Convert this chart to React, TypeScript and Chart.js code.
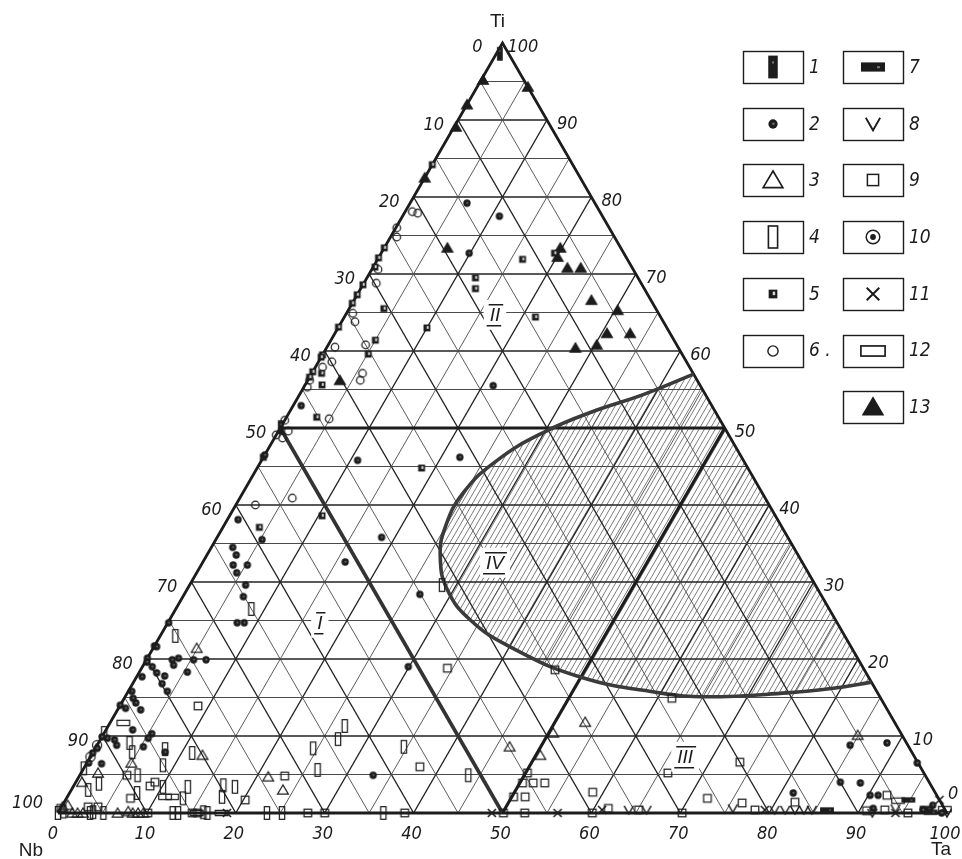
import React, { useEffect, useRef } from "react";
import { Chart, registerables } from "chart.js";

Chart.register(...registerables);

// Compositions are stored as [Ta %, Ti %]; Nb % is the remainder to 100.

// 1 — black vertical bar
const group1 = [[0.4, 98.6], [0, 50.1]];

// 2 — filled circle
const group2 = [
  [6.4, 79.2], [10.9, 77.5], [9.9, 72.7], [0.9, 52.9], [10.8, 45.8], [22.1, 46.2], [21.2, 55.5],
  [0, 46.5], [16.0, 32.6], [26.5, 28.4], [29.9, 19.0], [5.2, 32.2], [4.5, 31.2], [6.3, 29.6],
  [6.8, 28.1], [7.8, 24.7], [8.6, 24.7], [0.1, 24.7], [0, 21.7], [0.3, 21.6], [0, 20.1], [0.2, 19.6],
  [2.9, 19.9], [3.5, 20.1], [3.4, 19.2], [5.3, 19.9], [6.7, 19.9], [1.1, 19.0], [2.0, 18.2],
  [3.1, 17.8], [3.3, 16.8], [4.4, 15.8], [5.4, 18.3], [0.6, 17.7], [0.4, 15.8], [1.0, 14.9],
  [0, 14.0], [0.8, 13.6], [1.6, 14.3], [2.6, 13.4], [3.0, 10.8], [0, 9.9], [0.7, 9.7], [1.6, 9.5],
  [5.4, 10.3], [5.3, 9.7], [5.3, 8.6], [2.2, 8.8], [0.2, 8.4], [0, 7.8], [1.7, 6.4], [0.2, 6.5],
  [8.1, 7.9], [33.0, 4.9], [81.4, 2.6], [84.7, 8.8], [88.7, 9.1], [93.4, 6.5], [86.0, 4.0],
  [88.3, 3.9], [90.2, 2.3], [91.1, 2.3], [91.4, 0.6], [97.1, 0.4], [97.9, 1.0], [99.4, 0],
  [1.2, 38.1], [5.2, 35.5], [2.4, 34.5], [3.3, 33.5], [3.6, 32.2], [18.5, 35.8],
];

// 3 — open triangle
const group3 = [
  [4.9, 21.4], [12.5, 7.5], [1.9, 5.2], [0.7, 4.0], [5.0, 6.5], [21.3, 4.7], [23.8, 3.0],
  [46.5, 8.6], [50.5, 7.5], [50.5, 10.4], [53.4, 11.8], [84.9, 10.1], [0.1, 0.8], [0.6, 1.0],
  [1.6, 0], [2.2, 0], [2.8, 0], [6.7, 0], [7.8, 0.2], [8.4, 0], [9.0, 0], [9.6, 0],
];

// 4 — open vertical rectangle
const group4 = [
  [8.5, 26.5], [1.7, 23.0], [28.4, 29.6], [0, 10.4], [3.5, 9.1], [4.4, 7.9], [7.9, 8.3],
  [8.7, 6.2], [11.2, 7.8], [0, 5.8], [6.5, 4.9], [2.7, 3.8], [1.9, 3.0], [10.1, 3.4], [7.6, 2.6],
  [12.9, 3.4], [16.8, 3.6], [18.2, 3.4], [17.4, 2.1], [13.1, 1.9], [26.4, 5.6], [24.5, 8.4],
  [26.7, 9.6], [26.6, 11.3], [34.6, 8.6], [43.7, 4.9], [3.6, 0], [5.1, 0], [0, 0], [0.5, 0.2],
  [3.9, 0.1], [12.9, 0], [13.5, 0], [16.3, 0.1], [16.8, 0], [23.5, 0], [25.2, 0], [36.6, 0],
];

// 5 — small filled square
const group5 = [
  [16.3, 71.9], [12.2, 69.5], [12.9, 68.1], [10.0, 63.0], [3.9, 65.5], [5.0, 61.4], [1.1, 57.1],
  [1.9, 55.6], [3.4, 51.4], [18.5, 44.8], [21.5, 64.4], [19.5, 72.7], [5.1, 59.6], [0, 84.2],
  [0, 73.4], [0, 72.1], [0.2, 70.9], [0, 68.6], [0, 67.3], [0, 66.2], [0, 63.1], [0, 59.5],
  [0, 59.2], [0, 57.3], [0, 56.6], [0, 46.2], [4.1, 37.1], [10.4, 38.6],
];

// 6 — open circle
const group6 = [
  [0.8, 78.1], [1.5, 77.9], [0.1, 76.0], [0.7, 74.8], [0.7, 70.6], [1.4, 68.8], [0.7, 64.9],
  [1.5, 63.8], [4.2, 60.8], [0.9, 60.5], [1.5, 58.6], [0.8, 57.9], [0.2, 56.2], [0.4, 55.3],
  [5.7, 57.1], [5.9, 56.2], [4.9, 51.2], [0, 51.0], [0, 49.1], [1.1, 49.6], [0.9, 48.7],
  [5.9, 40.9], [2.2, 40.0],
];

// 7 — black horizontal bar
const group7 = [[86.3, 0.4], [94.8, 1.7], [97.4, 0.6], [98.1, 0.1]];

// 8 — V mark
const group8 = [
  [64.0, 0.4], [66.0, 0.4], [75.6, 0.6], [80.4, 0.4], [81.6, 0.4], [82.7, 0.4], [83.7, 0.4],
  [84.6, 0.4], [93.9, 0.6], [91.6, 0], [100, 0],
];

// 9 — open square
const group9 = [
  [34.4, 18.8], [8.8, 13.9], [5.3, 4.9], [8.6, 3.5], [8.9, 4.0], [7.2, 1.9], [20.2, 1.7],
  [23.1, 4.8], [37.7, 6.0], [50.2, 5.2], [50.3, 3.9], [51.5, 3.9], [52.8, 3.9], [50.2, 2.1],
  [51.5, 2.1], [58.8, 2.7], [46.6, 18.6], [61.6, 14.9], [66.0, 5.2], [73.4, 6.6], [72.1, 1.9],
  [76.3, 1.3], [82.2, 1.4], [92.1, 2.3], [3.0, 0.8], [4.1, 0.8], [0, 0.6], [10.1, 0], [28.1, 0],
  [30.0, 0], [39.0, 0], [50.1, 0], [52.5, 0], [60.1, 0], [61.6, 0.6], [65.1, 0.4], [70.2, 0],
  [78.2, 0.4], [90.8, 0.3], [92.8, 0.4], [95.6, 0], [15.1, 0], [15.7, 0],
];

// 10 — ring with centre dot
const group10 = [[0, 8.8], [0, 7.3]];

// 11 — cross
const group11 = [[19.0, 0], [48.8, 0], [56.2, 0], [61.0, 0.4], [79.3, 0.4], [94.2, 0], [98.3, 1.7]];

// 12 — open horizontal rectangle
const group12 = [[1.5, 11.7], [11.0, 2.1], [11.8, 2.1], [93.7, 1.6], [99.5, 0.5], [15.6, 0], [18.4, 0]];

// 13 — filled triangle
const group13 = [
  [7.1, 73.4], [19.8, 73.4], [20.1, 72.2], [21.9, 70.8], [23.4, 70.8], [26.7, 66.6], [30.3, 65.3],
  [28.0, 60.4], [30.2, 60.8], [30.6, 62.3], [33.2, 62.3], [3.6, 56.2], [0.2, 95.2], [5.7, 94.3],
  [0, 92.0], [0.2, 89.1], [0, 82.5],
];

// Boundary of field IV (starts and ends on the Ti–Ta side)
const curveIV = [
  [43, 57], [38.6, 54.3], [34.4, 52.3], [30, 49.5], [26.5, 45.8], [24.8, 41.6], [25, 37.1],
  [26.4, 33.2], [29.3, 29], [33.8, 25.1], [40, 21.6], [49.8, 17.7], [59.9, 15.6], [65.5, 15.1],
  [74.2, 15.6], [79.1, 16.2], [83, 17],
];

const tickValues = [0, 10, 20, 30, 40, 50, 60, 70, 80, 90, 100];
const gridSteps = [5, 10, 15, 20, 25, 30, 35, 40, 45, 50, 55, 60, 65, 70, 75, 80, 85, 90, 95];
const vertexNames = ["Ti", "Nb", "Ta"];
const regionNames = ["I", "II", "III", "IV"];
const regionAt = [[17.1, 24.7], [16.8, 64.7], [66.9, 7.3], [32.9, 32.5]];
const legendLabels = ["1", "2", "3", "4", "5", "6 .", "7", "8", "9", "10", "11", "12", "13"];

const groups = [
  group1, group2, group3, group4, group5, group6, group7,
  group8, group9, group10, group11, group12, group13,
];

const INK = "#1c1c1c";
const NUM_FONT = "italic 18px 'Liberation Sans Narrow', 'DejaVu Sans Condensed', 'Liberation Sans', sans-serif";
const legendScale = [1.9, 1.45, 2.1, 2.0, 1.45, 1.55, 2.0, 1.8, 1.7, 1.7, 1.8, 2.2, 2.1];
const plotScale = 1.15;

function makeMarker(kind: number, s: number): HTMLCanvasElement {
  const size = Math.ceil(16 * s / 2) * 2;
  const cv = document.createElement("canvas");
  cv.width = size;
  cv.height = size;
  const g = cv.getContext("2d")!;
  const c = size / 2;
  g.strokeStyle = INK;
  g.fillStyle = INK;
  g.lineWidth = 1.15 + 0.45 * (s - 1);
  const tri = () => {
    g.beginPath();
    g.moveTo(c, c - 4.3 * s);
    g.lineTo(c - 4.7 * s, c + 3.6 * s);
    g.lineTo(c + 4.7 * s, c + 3.6 * s);
    g.closePath();
  };
  switch (kind) {
    case 1:
      g.fillRect(c - 2.5 * s, c - 6 * s, 5 * s, 12 * s);
      g.fillStyle = "#777";
      g.fillRect(c - 0.5 * s, c - 3 * s, 1 * s, 1.2 * s);
      break;
    case 2:
      g.beginPath();
      g.arc(c, c, 3.2 * s, 0, Math.PI * 2);
      g.fill();
      g.fillStyle = "#6a6a6a";
      g.beginPath();
      g.arc(c + 0.3 * s, c - 0.2 * s, 0.9 * s, 0, Math.PI * 2);
      g.fill();
      break;
    case 3:
      tri();
      g.stroke();
      break;
    case 4:
      g.strokeRect(c - 2.3 * s, c - 5.5 * s, 4.6 * s, 11 * s);
      break;
    case 5:
      g.fillRect(c - 3 * s, c - 3 * s, 6 * s, 6 * s);
      g.fillStyle = "#d8d8d8";
      g.fillRect(c - 0.2 * s, c - 1.6 * s, 1.7 * s, 2.4 * s);
      break;
    case 6:
      g.beginPath();
      g.arc(c, c, 3.3 * s, 0, Math.PI * 2);
      g.stroke();
      break;
    case 7:
      g.fillRect(c - 6 * s, c - 2.3 * s, 12 * s, 4.6 * s);
      g.fillStyle = "#777";
      g.fillRect(c + 2 * s, c - 0.4 * s, 1.5 * s, 1 * s);
      break;
    case 8:
      g.lineWidth *= 1.2;
      g.beginPath();
      g.moveTo(c - 4 * s, c - 3.5 * s);
      g.lineTo(c, c + 3.5 * s);
      g.lineTo(c + 4 * s, c - 3.5 * s);
      g.stroke();
      break;
    case 9:
      g.strokeRect(c - 3.3 * s, c - 3.3 * s, 6.6 * s, 6.6 * s);
      break;
    case 10:
      g.beginPath();
      g.arc(c, c, 4 * s, 0, Math.PI * 2);
      g.stroke();
      g.beginPath();
      g.arc(c, c, 1.7 * s, 0, Math.PI * 2);
      g.fill();
      break;
    case 11:
      g.lineWidth *= 1.3;
      g.beginPath();
      g.moveTo(c - 3.5 * s, c - 3.5 * s);
      g.lineTo(c + 3.5 * s, c + 3.5 * s);
      g.moveTo(c + 3.5 * s, c - 3.5 * s);
      g.lineTo(c - 3.5 * s, c + 3.5 * s);
      g.stroke();
      break;
    case 12:
      g.strokeRect(c - 5.5 * s, c - 2.3 * s, 11 * s, 4.6 * s);
      break;
    case 13:
      tri();
      g.fill();
      g.stroke();
      break;
  }
  return cv;
}

export default function App() {
  const ref = useRef<HTMLCanvasElement>(null);

  useEffect(() => {
    const canvas = ref.current;
    if (!canvas) return;
    const H = Math.sqrt(3) / 2;
    const toXY = (p: number[]) => ({ x: p[0] + p[1] / 2, y: p[1] * H });

    const datasets: any[] = [];
    const line = (pts: number[][], color: string, width: number, order: number, extra: any = {}) =>
      datasets.push({
        data: pts.map(toXY),
        showLine: true,
        pointRadius: 0,
        borderColor: color,
        borderWidth: width,
        clip: false,
        order,
        ...extra,
      });

    // data markers (drawn last)
    groups.forEach((grp, i) => {
      datasets.push({
        data: grp.map(toXY),
        showLine: false,
        pointStyle: makeMarker(i + 1, plotScale),
        pointRadius: 4,
        clip: false,
        order: 0,
      });
    });

    // field IV boundary
    const curveIndex = datasets.length;
    line(curveIV, "#3b3b3b", 3.6, 1, { tension: 0.45 });

    // heavy dividing lines at 50 %
    line([[0, 50], [50, 50]], INK, 3.2, 2);
    line([[50, 0], [50, 50]], INK, 3.2, 2);
    line([[0, 50], [50, 0]], "#333", 3.6, 2);
    line([[0, 0], [100, 0], [0, 100], [0, 0]], INK, 2.8, 2, { borderJoinStyle: "miter" });

    // 5 % grid
    gridSteps.forEach((v) => {
      const major = v % 10 === 0;
      const col = major ? "#222" : "#4a4a4a";
      const w = major ? 1.4 : 0.9;
      line([[0, v], [100 - v, v]], col, major ? 1.35 : 1.05, 4);
      line([[v, 0], [v, 100 - v]], col, w, 4);
      line([[100 - v, 0], [0, 100 - v]], col, w, 4);
    });

    const legendMarkers = legendScale.map((s, i) => makeMarker(i + 1, s));

    const decor = {
      id: "ternaryDecor",
      beforeDatasetsDraw(chart: any) {
        const { ctx, chartArea: a } = chart;
        const el = chart.getDatasetMeta(curveIndex).dataset;
        if (!el) return;
        ctx.save();
        ctx.beginPath();
        el.path(ctx);
        ctx.closePath();
        ctx.clip();
        ctx.strokeStyle = "#5a5a5a";
        ctx.lineWidth = 0.8;
        const hgt = a.bottom - a.top;
        const run = hgt / Math.tan(Math.PI / 3);
        ctx.beginPath();
        for (let x0 = a.left - run; x0 < a.right + 2; x0 += 5.4) {
          ctx.moveTo(x0, a.bottom);
          ctx.lineTo(x0 + run, a.top);
        }
        ctx.stroke();
        ctx.restore();
      },
      afterDatasetsDraw(chart: any) {
        const { ctx } = chart;
        const sx = chart.scales.x;
        const sy = chart.scales.y;
        const px = (p: number[]) => ({
          x: sx.getPixelForValue(p[0] + p[1] / 2),
          y: sy.getPixelForValue(p[1] * H),
        });
        ctx.save();
        ctx.fillStyle = INK;
        ctx.strokeStyle = INK;

        // field numerals with over- and underline
        ctx.font = "italic 19px 'Liberation Sans', sans-serif";
        ctx.textAlign = "center";
        ctx.textBaseline = "middle";
        regionNames.forEach((name, i) => {
          const p = px(regionAt[i]);
          const w = ctx.measureText(name).width;
          ctx.fillStyle = "#fff";
          ctx.fillRect(p.x - w / 2 - 6, p.y - 15, w + 12, 30);
          ctx.fillStyle = INK;
          ctx.fillText(name, p.x, p.y + 1);
          ctx.lineWidth = 1.4;
          ctx.beginPath();
          ctx.moveTo(p.x - w / 2 - 1, p.y - 10);
          ctx.lineTo(p.x + w / 2 + 3, p.y - 10);
          ctx.moveTo(p.x - w / 2 - 3, p.y + 11);
          ctx.lineTo(p.x + w / 2 + 1, p.y + 11);
          ctx.stroke();
        });

        // side labels
        ctx.font = NUM_FONT;
        tickValues.forEach((v) => {
          // Nb side (left)
          let p = px([0, 100 - v]);
          ctx.textAlign = "right";
          if (v === 100) ctx.fillText(String(v), p.x - 15, p.y - 10);
          else if (v === 0) ctx.fillText(String(v), p.x - 20, p.y + 4);
          else ctx.fillText(String(v), p.x - 14, p.y + 5);
          // Ta side (right)
          p = px([100 - v, v]);
          ctx.textAlign = "left";
          if (v === 100) ctx.fillText(String(v), p.x + 5, p.y + 4);
          else if (v === 0) ctx.fillText(String(v), p.x + 1, p.y - 19);
          else ctx.fillText(String(v), p.x + 10, p.y + 4);
          // base
          p = px([v, 0]);
          ctx.textAlign = "center";
          ctx.fillText(String(v), p.x - (v === 0 ? 5 : 2), p.y + 21);
        });

        // vertex names
        ctx.font = "19px 'Liberation Sans', sans-serif";
        ctx.textAlign = "center";
        const vTi = px([0, 100]);
        const vNb = px([0, 0]);
        const vTa = px([100, 0]);
        ctx.fillText(vertexNames[0], vTi.x - 5, vTi.y - 21);
        ctx.fillText(vertexNames[1], vNb.x - 27, vNb.y + 38);
        ctx.fillText(vertexNames[2], vTa.x - 6, vTa.y + 37);

        // key
        const colX = [743, 843];
        const bw = 60;
        const bh = 32;
        ctx.font = "italic 19px 'Liberation Sans Narrow', 'DejaVu Sans Condensed', 'Liberation Sans', sans-serif";
        ctx.textAlign = "left";
        legendLabels.forEach((lab, i) => {
          const col = i < 6 ? 0 : 1;
          const row = i < 6 ? i : i - 6;
          const x = colX[col];
          const y = 51 + row * 56.7;
          ctx.lineWidth = 1.4;
          ctx.strokeRect(x + 0.5, Math.round(y) + 0.5, bw, bh);
          const m = legendMarkers[i];
          ctx.drawImage(m, Math.round(x + bw / 2 - m.width / 2), Math.round(y + bh / 2 - m.height / 2));
          ctx.fillText(lab, x + bw + 6, y + bh / 2 + 1);
        });
        ctx.restore();
      },
    };

    const chart = new Chart(canvas, {
      type: "scatter",
      data: { datasets },
      options: {
        responsive: false,
        animation: false,
        events: [],
        layout: { padding: { left: 58, right: 15, top: 43, bottom: 46 } },
        scales: {
          x: { type: "linear", min: 0, max: 100, display: false },
          y: { type: "linear", min: 0, max: 100 * H, display: false },
        },
        plugins: { legend: { display: false }, tooltip: { enabled: false } },
      },
      plugins: [decor],
    } as any);

    return () => chart.destroy();
  }, []);

  return (
    <div style={{ position: "absolute", left: 0, top: 0, width: 962, height: 859, background: "#fff" }}>
      <canvas ref={ref} width={962} height={859} style={{ display: "block" }} />
    </div>
  );
}
